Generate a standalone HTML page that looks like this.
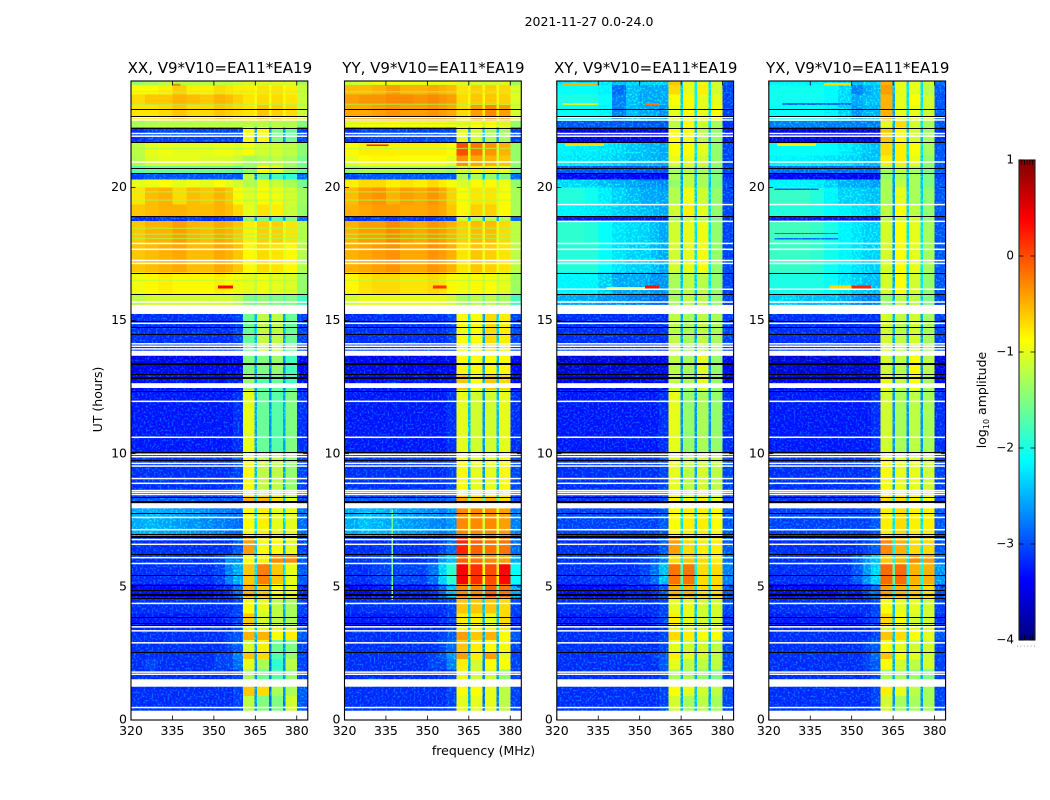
<!DOCTYPE html>
<html>
<head>
<meta charset="utf-8">
<title>2021-11-27 0.0-24.0</title>
<style>
html,body{margin:0;padding:0;background:#fff;width:1050px;height:800px;overflow:hidden}
svg{display:block}
text{font-family:"DejaVu Sans","Liberation Sans",sans-serif;fill:#000}
</style>
</head>
<body>
<svg id="figure" width="1050" height="800" viewBox="0 0 1050 800" xmlns="http://www.w3.org/2000/svg">
  <defs id="defs"></defs>
  <text x="589" y="26" font-size="12.5" text-anchor="middle">2021-11-27 0.0-24.0</text>
  <text transform="translate(102,399.5) rotate(-90)" font-size="12.5" text-anchor="middle">UT (hours)</text>
  <text x="483.5" y="755" font-size="12.5" text-anchor="middle">frequency (MHz)</text>
  <text transform="translate(986,400) rotate(-90)" font-size="12.5" text-anchor="middle">log<tspan font-size="8" dy="3">10</tspan><tspan dy="-3"> amplitude</tspan></text>
  <g id="panels"></g>
  <g id="colorbar"></g>
</svg>
<script>
// Frequency bin edges (MHz) and time row edges (UT hours)
const freqEdges = [320,325,330,335,340,345,350,354,357,360.5,364.7,365.7,369.9,370.8,375,375.9,380,384];
const timeEdges = [0,0.9,1.25,1.9,2.3,2.55,3.0,3.3,3.5,4.0,4.6,5.1,5.9,6.2,6.9,7.95,8.4,10.05,12.4,13.0,13.7,15.59,16.0,16.8,17.9,18.74,18.93,19.36,20.0,20.3,20.53,20.8,21.2,21.7,22.25,22.5,23.1,23.5,23.85,24];

// log10 amplitude per time row (bottom to top) and frequency bin
const xxValues = [
[-3.2,-3.2,-3.2,-3.2,-3.2,-3.2,-3.2,-3.2,-3.1,-1.2,-2.7,-1.5,-2.9,-1.5,-2.8,-1.1,-3.0],
[-3.2,-3.2,-3.2,-3.2,-3.2,-3.2,-3.2,-3.2,-3.1,-0.6,-2.7,-0.7,-2.9,-1.3,-2.7,-1.3,-3.0],
[-3.2,-3.2,-3.2,-3.2,-3.2,-3.2,-3.2,-3.2,-3.1,-1.3,-2.7,-1.6,-2.8,-1.7,-2.7,-1.4,-3.1],
[-3.2,-3.1,-3.2,-3.2,-3.2,-3.2,-3.1,-3.1,-2.9,-1.0,-2.7,-1.3,-2.9,-1.9,-2.7,-1.2,-3.1],
[-3.2,-3.2,-3.2,-3.2,-3.2,-3.2,-3.1,-3.1,-2.8,-0.6,-2.6,-0.7,-2.8,-1.7,-2.7,-1.4,-3.1],
[-3.2,-3.2,-3.2,-3.2,-3.2,-3.2,-3.2,-3.1,-3.0,-1.1,-2.6,-0.8,-2.8,-1.6,-2.7,-1.5,-3.1],
[-3.2,-3.2,-3.2,-3.2,-3.2,-3.2,-3.2,-3.1,-3.0,-0.5,-2.5,-0.5,-2.7,-0.9,-2.6,-0.8,-3.0],
[-3.2,-3.2,-3.2,-3.2,-3.2,-3.2,-3.2,-3.2,-3.0,-1.0,-2.5,-1.0,-2.7,-1.0,-2.6,-1.1,-3.1],
[-3.3,-3.3,-3.3,-3.3,-3.3,-3.3,-3.3,-3.2,-3.1,-0.6,-2.5,-1.1,-2.8,-1.2,-2.6,-1.3,-3.2],
[-3.2,-3.2,-3.2,-3.2,-3.2,-3.2,-3.2,-3.2,-3.1,-0.9,-2.6,-1.0,-2.8,-1.2,-2.6,-1.3,-3.1],
[-3.4,-3.4,-3.4,-3.4,-3.4,-3.4,-3.3,-3.2,-2.9,-0.5,-2.4,-0.6,-2.6,-0.9,-2.5,-1.0,-3.2],
[-3.2,-3.2,-3.2,-3.2,-3.2,-3.2,-3.1,-2.8,-2.6,-0.6,-2.3,-0.25,-2.5,-0.6,-2.4,-1.0,-3.0],
[-3.2,-3.2,-3.2,-3.2,-3.2,-3.2,-3.1,-2.8,-2.8,-0.9,-2.5,-0.8,-2.5,-0.3,-2.5,-0.3,-3.0],
[-3.2,-3.2,-3.2,-3.2,-3.2,-3.2,-3.2,-3.2,-3.0,-0.4,-2.4,-0.9,-2.6,-0.9,-2.6,-1.0,-3.1],
[-2.6,-2.55,-2.6,-2.65,-2.7,-2.75,-2.8,-2.85,-2.9,-0.9,-2.3,-0.8,-2.5,-1.0,-2.4,-1.0,-2.9],
[-3.0,-3.0,-3.0,-3.0,-3.0,-3.0,-3.0,-3.0,-3.0,-0.5,-2.4,-0.5,-2.6,-0.7,-2.4,-1.0,-3.1],
[-3.2,-3.2,-3.2,-3.2,-3.2,-3.2,-3.2,-3.2,-3.1,-0.9,-2.5,-1.2,-2.7,-1.2,-2.6,-1.4,-3.1],
[-3.3,-3.3,-3.3,-3.3,-3.3,-3.3,-3.3,-3.3,-3.2,-1.0,-2.6,-1.6,-2.7,-1.7,-2.6,-1.5,-3.2],
[-3.4,-3.3,-3.4,-3.3,-3.4,-3.3,-3.4,-3.3,-3.3,-1.4,-2.6,-1.7,-2.8,-1.6,-2.7,-1.8,-3.4],
[-3.5,-3.4,-3.5,-3.4,-3.5,-3.4,-3.5,-3.4,-3.4,-1.5,-2.6,-1.5,-2.8,-1.4,-2.7,-1.8,-3.4],
[-3.2,-3.2,-3.2,-3.2,-3.2,-3.2,-3.2,-3.2,-3.1,-1.6,-2.5,-1.2,-2.7,-1.2,-2.6,-1.6,-3.1],
[-1.2,-1.1,-1.1,-1.1,-1.1,-1.1,-1.1,-1.1,-1.2,-1.5,-1.7,-1.4,-1.7,-1.5,-1.7,-1.5,-1.8],
[-0.95,-0.85,-0.8,-0.85,-0.85,-0.85,-0.8,-0.85,-0.95,-1.0,-1.2,-0.95,-1.2,-1.0,-1.2,-1.05,-1.4],
[-0.6,-0.55,-0.5,-0.45,-0.55,-0.55,-0.45,-0.5,-0.6,-0.85,-1.0,-0.7,-1.0,-0.75,-1.0,-0.85,-1.25],
[-0.6,-0.5,-0.5,-0.4,-0.5,-0.55,-0.45,-0.5,-0.6,-0.8,-0.95,-0.65,-0.95,-0.65,-0.95,-0.75,-1.25],
[-3.2,-3.2,-3.1,-3.2,-3.1,-3.2,-3.2,-3.1,-3.1,-1.4,-2.6,-1.5,-2.6,-1.7,-2.6,-1.5,-2.9],
[-0.6,-0.55,-0.5,-0.5,-0.55,-0.55,-0.5,-0.55,-0.7,-1.0,-1.2,-0.75,-1.2,-0.8,-1.2,-1.15,-1.4],
[-0.75,-0.55,-0.5,-0.7,-0.55,-0.6,-0.5,-0.6,-0.85,-1.05,-1.2,-0.85,-1.2,-0.95,-1.2,-1.1,-1.35],
[-1.0,-0.95,-0.9,-1.0,-0.95,-1.0,-0.9,-1.0,-1.1,-1.25,-1.35,-1.0,-1.35,-1.15,-1.35,-1.3,-1.55],
[-3.1,-3.0,-3.0,-3.0,-3.0,-3.0,-3.0,-3.0,-3.0,-1.2,-2.8,-1.6,-2.7,-1.8,-2.4,-1.9,-2.9],
[-1.7,-1.6,-1.6,-1.6,-1.6,-1.6,-1.6,-1.6,-1.7,-1.4,-1.5,-0.9,-1.3,-1.0,-1.4,-1.4,-1.6],
[-1.25,-1.05,-1.0,-1.0,-1.0,-1.05,-1.05,-1.05,-1.15,-1.3,-1.35,-1.25,-1.35,-1.2,-1.35,-1.3,-1.55],
[-1.2,-1.0,-0.95,-1.0,-1.0,-1.0,-0.95,-0.95,-1.0,-0.9,-1.15,-1.1,-1.25,-1.1,-1.25,-1.2,-1.45],
[-3.2,-3.1,-3.1,-3.1,-3.1,-3.1,-3.1,-3.1,-3.1,-0.9,-2.7,-0.9,-2.6,-1.5,-2.7,-1.6,-3.1],
[-1.3,-1.25,-1.2,-1.2,-1.2,-1.2,-1.2,-1.2,-1.2,-1.2,-1.3,-1.2,-1.4,-1.2,-1.3,-1.25,-1.5],
[-0.75,-0.75,-0.7,-0.6,-0.7,-0.7,-0.6,-0.65,-0.7,-0.75,-0.85,-0.6,-0.85,-0.65,-0.85,-0.7,-1.15],
[-0.7,-0.6,-0.6,-0.5,-0.55,-0.6,-0.5,-0.55,-0.65,-0.75,-0.9,-0.7,-0.9,-0.7,-0.9,-0.75,-1.15],
[-0.85,-0.85,-0.8,-0.65,-0.8,-0.8,-0.7,-0.75,-0.8,-0.8,-0.9,-0.75,-0.9,-0.75,-0.9,-0.8,-1.15],
[-1.4,-1.3,-1.2,-1.2,-1.2,-1.2,-1.2,-1.2,-1.1,-1.0,-1.1,-1.0,-1.1,-1.0,-1.1,-1.0,-1.3]
];
const yyValues = [
[-3.2,-3.2,-3.2,-3.2,-3.2,-3.2,-3.2,-3.2,-3.1,-1.0,-2.6,-1.0,-2.9,-1.0,-2.8,-1.2,-3.1],
[-3.2,-3.2,-3.2,-3.2,-3.2,-3.2,-3.2,-3.2,-3.1,-0.9,-2.6,-0.9,-2.9,-1.0,-2.8,-1.2,-3.1],
[-3.2,-3.2,-3.2,-3.2,-3.2,-3.2,-3.2,-3.2,-3.1,-1.0,-2.6,-1.1,-2.8,-1.1,-2.7,-1.4,-3.1],
[-3.2,-3.2,-3.2,-3.2,-3.2,-3.2,-3.1,-3.1,-2.8,-0.8,-2.6,-1.1,-2.8,-0.9,-2.7,-0.9,-3.1],
[-3.2,-3.2,-3.2,-3.2,-3.2,-3.2,-3.1,-3.0,-2.7,-0.4,-2.5,-0.8,-2.7,-0.4,-2.6,-1.0,-3.1],
[-3.2,-3.2,-3.2,-3.2,-3.2,-3.2,-3.2,-3.1,-2.9,-0.6,-2.5,-0.8,-2.7,-0.9,-2.6,-0.9,-3.1],
[-3.2,-3.2,-3.2,-3.2,-3.2,-3.2,-3.2,-3.1,-3.0,-0.4,-2.4,-0.6,-2.6,-0.5,-2.5,-0.9,-3.0],
[-3.2,-3.2,-3.2,-3.2,-3.2,-3.2,-3.2,-3.2,-3.0,-0.9,-2.4,-0.9,-2.6,-0.9,-2.5,-0.8,-3.1],
[-3.3,-3.3,-3.3,-3.3,-3.3,-3.3,-3.3,-3.2,-3.1,-0.8,-2.4,-0.8,-2.6,-1.0,-2.5,-0.7,-3.2],
[-3.2,-3.2,-3.2,-3.2,-3.2,-3.2,-3.2,-3.2,-3.1,-0.6,-2.4,-0.6,-2.5,-0.6,-2.4,-0.7,-3.1],
[-3.4,-3.4,-3.3,-3.3,-3.3,-3.3,-3.2,-2.9,-2.5,-0.3,-1.6,-0.3,-1.7,-0.1,-1.6,-0.2,-2.6],
[-3.2,-3.2,-3.1,-3.1,-3.1,-3.1,-2.9,-2.4,-1.9,0.4,-0.6,0.15,-0.9,0.0,-0.8,0.35,-2.1],
[-3.2,-3.2,-3.1,-3.1,-3.2,-3.2,-3.1,-2.7,-2.5,-0.1,-1.0,-0.2,-1.2,-0.3,-1.1,-0.4,-2.6],
[-3.2,-3.2,-3.2,-3.2,-3.2,-3.2,-3.2,-3.1,-2.9,0.2,-0.9,-0.1,-1.2,-0.2,-1.1,-0.2,-2.9],
[-2.6,-2.5,-2.55,-2.6,-2.65,-2.7,-2.75,-2.8,-2.7,-0.3,-1.0,-0.3,-1.1,-0.3,-1.0,-0.4,-2.8],
[-3.0,-3.0,-3.0,-3.0,-3.0,-3.0,-3.0,-3.0,-2.9,-0.4,-1.6,-0.6,-1.8,-0.5,-1.7,-0.7,-3.1],
[-3.2,-3.2,-3.2,-3.2,-3.2,-3.2,-3.2,-3.2,-3.1,-0.9,-2.5,-1.0,-2.7,-1.0,-2.5,-0.9,-3.1],
[-3.3,-3.3,-3.3,-3.3,-3.3,-3.3,-3.3,-3.3,-3.2,-1.0,-2.5,-1.1,-2.7,-1.1,-2.5,-1.0,-3.2],
[-3.4,-3.3,-3.4,-3.3,-3.4,-3.3,-3.4,-3.3,-3.3,-0.6,-2.4,-0.9,-2.6,-0.6,-2.5,-0.7,-3.4],
[-3.5,-3.4,-3.5,-3.4,-3.5,-3.4,-3.5,-3.4,-3.4,-0.9,-2.4,-0.9,-2.6,-0.9,-2.5,-0.9,-3.4],
[-3.2,-3.2,-3.2,-3.2,-3.2,-3.2,-3.2,-3.2,-3.1,-0.9,-2.3,-0.9,-2.6,-0.7,-2.4,-0.8,-3.1],
[-1.1,-1.0,-1.0,-1.0,-1.0,-1.0,-1.0,-1.0,-1.1,-1.3,-1.6,-1.2,-1.6,-1.2,-1.6,-1.3,-1.8],
[-0.85,-0.75,-0.7,-0.7,-0.75,-0.75,-0.7,-0.75,-0.85,-0.95,-1.15,-0.85,-1.15,-0.9,-1.15,-1.0,-1.35],
[-0.5,-0.45,-0.4,-0.35,-0.45,-0.45,-0.35,-0.4,-0.5,-0.75,-0.95,-0.6,-0.95,-0.65,-0.95,-0.75,-1.2],
[-0.5,-0.4,-0.4,-0.3,-0.4,-0.45,-0.35,-0.4,-0.5,-0.65,-0.85,-0.55,-0.85,-0.55,-0.85,-0.7,-1.2],
[-3.2,-3.2,-3.1,-3.2,-3.1,-3.2,-3.2,-3.1,-3.1,-1.1,-2.5,-1.2,-2.5,-1.2,-2.5,-1.2,-2.9],
[-0.5,-0.45,-0.4,-0.4,-0.45,-0.45,-0.4,-0.45,-0.6,-0.85,-1.05,-0.65,-1.05,-0.65,-1.05,-0.85,-1.3],
[-0.55,-0.4,-0.35,-0.5,-0.4,-0.45,-0.35,-0.45,-0.65,-0.85,-1.05,-0.75,-1.05,-0.75,-1.05,-0.85,-1.3],
[-0.8,-0.7,-0.7,-0.8,-0.75,-0.8,-0.7,-0.8,-0.9,-1.05,-1.2,-0.85,-1.2,-0.85,-1.2,-0.95,-1.4],
[-3.1,-3.0,-3.0,-3.0,-3.0,-3.0,-3.0,-3.0,-3.0,-1.3,-2.6,-1.3,-2.5,-1.4,-2.4,-1.5,-2.9],
[-1.4,-1.3,-1.3,-1.3,-1.3,-1.3,-1.3,-1.3,-1.4,-1.1,-1.3,-0.8,-1.2,-0.8,-1.2,-1.0,-1.5],
[-1.0,-0.9,-0.85,-0.85,-0.9,-0.9,-0.9,-0.9,-1.0,-0.35,-1.0,-0.45,-1.1,-0.5,-1.1,-0.6,-1.4],
[-0.85,-0.8,-0.8,-0.8,-0.8,-0.8,-0.8,-0.8,-0.85,0.0,-0.9,-0.2,-1.0,-0.35,-1.0,-0.5,-1.4],
[-3.2,-3.1,-3.1,-3.1,-3.1,-3.1,-3.1,-3.1,-3.1,-1.0,-2.6,-1.1,-2.5,-1.3,-2.6,-1.3,-3.1],
[-1.0,-0.95,-0.95,-0.9,-0.95,-0.95,-0.95,-0.95,-1.0,-1.0,-1.1,-0.9,-1.1,-0.9,-1.1,-1.0,-1.4],
[-0.45,-0.45,-0.4,-0.35,-0.4,-0.4,-0.35,-0.4,-0.45,-0.7,-0.8,-0.4,-0.8,-0.3,-0.8,-0.4,-1.1],
[-0.4,-0.35,-0.35,-0.3,-0.3,-0.35,-0.3,-0.35,-0.4,-0.7,-0.85,-0.6,-0.85,-0.6,-0.85,-0.65,-1.05],
[-0.55,-0.55,-0.5,-0.4,-0.5,-0.5,-0.45,-0.5,-0.55,-0.75,-0.85,-0.65,-0.85,-0.65,-0.85,-0.7,-1.05],
[-1.1,-1.0,-0.9,-0.9,-0.9,-0.9,-0.9,-0.9,-0.9,-1.0,-1.1,-1.0,-1.1,-1.0,-1.1,-1.0,-1.3]
];
const xyValues = [
[-3.2,-3.2,-3.2,-3.2,-3.2,-3.2,-3.2,-3.2,-3.1,-1.1,-2.6,-1.3,-2.5,-1.2,-2.6,-1.3,-3.1],
[-3.2,-3.2,-3.2,-3.2,-3.2,-3.2,-3.2,-3.2,-3.1,-0.9,-2.6,-1.0,-2.5,-1.1,-2.6,-1.2,-3.1],
[-3.2,-3.2,-3.2,-3.2,-3.2,-3.2,-3.2,-3.2,-3.1,-1.3,-2.6,-1.3,-2.6,-1.4,-2.6,-1.5,-3.1],
[-3.2,-3.2,-3.2,-3.2,-3.2,-3.2,-3.2,-3.2,-3.0,-1.0,-2.6,-1.2,-2.6,-1.2,-2.6,-1.2,-3.1],
[-3.2,-3.2,-3.2,-3.2,-3.2,-3.2,-3.2,-3.1,-3.0,-0.8,-2.5,-1.0,-2.6,-1.1,-2.6,-1.2,-3.1],
[-3.2,-3.2,-3.2,-3.2,-3.2,-3.2,-3.2,-3.2,-3.1,-1.0,-2.5,-1.1,-2.6,-1.1,-2.5,-1.2,-3.1],
[-3.2,-3.2,-3.2,-3.2,-3.2,-3.2,-3.2,-3.2,-3.1,-0.7,-2.5,-0.8,-2.5,-0.9,-2.5,-0.9,-3.0],
[-3.2,-3.2,-3.2,-3.2,-3.2,-3.2,-3.2,-3.2,-3.1,-1.0,-2.4,-1.0,-2.5,-1.0,-2.5,-1.0,-3.1],
[-3.3,-3.3,-3.3,-3.3,-3.3,-3.3,-3.3,-3.2,-3.1,-0.8,-2.4,-1.0,-2.5,-1.1,-2.5,-1.1,-3.2],
[-3.2,-3.2,-3.2,-3.2,-3.2,-3.2,-3.2,-3.2,-3.1,-1.0,-2.5,-1.0,-2.5,-1.1,-2.5,-1.1,-3.1],
[-3.4,-3.4,-3.4,-3.4,-3.4,-3.3,-3.3,-3.2,-3.0,-0.5,-2.2,-0.5,-2.3,-0.7,-2.3,-0.7,-3.0],
[-3.2,-3.2,-3.2,-3.2,-3.2,-3.2,-3.1,-2.9,-2.5,-0.2,-1.8,-0.2,-2.2,-0.7,-2.2,-0.7,-2.8],
[-3.2,-3.2,-3.2,-3.2,-3.2,-3.2,-3.1,-3.0,-2.8,-0.7,-2.3,-0.6,-2.3,-0.7,-2.3,-0.8,-2.9],
[-3.2,-3.2,-3.2,-3.2,-3.2,-3.2,-3.2,-3.2,-3.0,-0.4,-2.2,-0.7,-2.3,-0.8,-2.3,-0.8,-3.0],
[-3.1,-3.1,-3.1,-3.1,-3.1,-3.1,-3.1,-3.1,-3.0,-0.9,-2.3,-0.8,-2.4,-0.8,-2.3,-0.9,-3.0],
[-3.2,-3.2,-3.2,-3.2,-3.2,-3.2,-3.2,-3.2,-3.1,-0.8,-2.3,-0.9,-2.4,-0.8,-2.4,-1.0,-3.1],
[-3.2,-3.2,-3.2,-3.2,-3.2,-3.2,-3.2,-3.2,-3.1,-1.0,-2.6,-1.2,-2.6,-1.1,-2.6,-1.2,-3.1],
[-3.3,-3.3,-3.3,-3.3,-3.3,-3.3,-3.3,-3.3,-3.2,-1.0,-2.7,-1.4,-2.7,-1.3,-2.7,-1.4,-3.2],
[-3.5,-3.4,-3.5,-3.4,-3.5,-3.4,-3.5,-3.4,-3.4,-1.2,-2.7,-1.3,-2.7,-1.0,-2.7,-1.4,-3.4],
[-3.6,-3.5,-3.6,-3.5,-3.6,-3.5,-3.6,-3.5,-3.5,-1.2,-2.7,-1.3,-2.7,-1.0,-2.7,-1.4,-3.5],
[-3.2,-3.2,-3.2,-3.2,-3.2,-3.2,-3.2,-3.2,-3.2,-1.2,-2.6,-1.3,-2.6,-1.2,-2.6,-1.3,-3.1],
[-2.6,-2.6,-2.6,-2.7,-2.7,-2.8,-2.8,-2.9,-2.9,-1.3,-2.5,-1.2,-2.5,-1.2,-2.4,-1.4,-3.1],
[-2.2,-2.2,-2.2,-2.4,-2.6,-2.6,-2.6,-2.7,-2.7,-1.3,-2.5,-1.2,-2.4,-1.2,-2.3,-1.4,-3.1],
[-1.95,-1.95,-1.95,-2.1,-2.3,-2.4,-2.4,-2.5,-2.6,-1.1,-2.6,-1.0,-2.3,-0.9,-2.3,-1.4,-3.1],
[-1.9,-1.9,-1.95,-2.1,-2.3,-2.35,-2.4,-2.5,-2.6,-1.1,-2.6,-1.0,-2.3,-0.95,-2.3,-1.4,-3.1],
[-3.3,-3.3,-3.3,-3.3,-3.3,-3.3,-3.3,-3.3,-3.3,-1.3,-2.6,-1.1,-2.4,-1.2,-2.4,-1.5,-3.2],
[-2.2,-2.2,-2.25,-2.3,-2.4,-2.45,-2.5,-2.55,-2.6,-1.1,-2.6,-0.8,-2.4,-1.0,-2.4,-1.4,-3.1],
[-1.95,-1.95,-2.05,-2.25,-2.4,-2.5,-2.6,-2.6,-2.65,-1.25,-2.6,-0.95,-2.4,-1.1,-2.4,-1.4,-3.1],
[-2.35,-2.35,-2.4,-2.5,-2.55,-2.6,-2.7,-2.7,-2.75,-1.4,-2.6,-1.2,-2.5,-1.3,-2.5,-1.5,-3.1],
[-3.4,-3.4,-3.4,-3.4,-3.4,-3.4,-3.4,-3.4,-3.4,-1.3,-2.7,-1.2,-2.5,-1.3,-2.4,-1.5,-3.2],
[-3.0,-3.0,-3.0,-3.0,-3.0,-3.0,-3.0,-3.0,-3.0,-1.3,-2.6,-1.2,-2.5,-1.3,-2.5,-1.5,-3.1],
[-2.25,-2.3,-2.3,-2.35,-2.4,-2.5,-2.5,-2.55,-2.6,-1.0,-2.6,-1.0,-2.4,-1.1,-2.4,-1.4,-3.1],
[-2.2,-2.25,-2.25,-2.3,-2.35,-2.45,-2.5,-2.55,-2.6,-0.9,-2.6,-0.9,-2.3,-1.0,-2.3,-1.4,-3.1],
[-3.5,-3.5,-3.5,-3.5,-3.5,-3.5,-3.5,-3.5,-3.5,-0.9,-2.7,-0.9,-2.5,-1.2,-2.5,-1.4,-3.3],
[-3.0,-3.0,-3.0,-3.0,-3.0,-3.0,-3.0,-3.0,-3.0,-1.2,-2.5,-0.9,-2.3,-1.1,-2.3,-1.3,-3.2],
[-2.1,-2.1,-2.1,-2.2,-2.8,-2.5,-2.6,-2.6,-2.7,-1.0,-2.4,-0.9,-2.3,-1.0,-2.3,-0.9,-3.1],
[-2.0,-2.0,-2.0,-2.1,-2.8,-2.5,-2.6,-2.6,-2.6,-0.9,-2.4,-0.9,-2.2,-1.0,-2.3,-1.0,-3.1],
[-2.1,-2.1,-2.1,-2.2,-2.9,-2.5,-2.6,-2.6,-2.6,-0.7,-2.4,-1.0,-2.2,-0.8,-2.3,-1.1,-3.1],
[-2.3,-2.3,-2.3,-2.3,-2.5,-2.4,-2.4,-2.4,-2.4,-0.6,-2.4,-1.0,-2.2,-1.0,-2.3,-1.1,-3.0]
];
const yxValues = [
[-3.2,-3.2,-3.2,-3.2,-3.2,-3.2,-3.2,-3.2,-3.1,-1.1,-2.7,-1.3,-2.6,-1.3,-2.7,-1.3,-3.1],
[-3.2,-3.2,-3.2,-3.2,-3.2,-3.2,-3.2,-3.2,-3.1,-0.8,-2.7,-1.0,-2.6,-1.2,-2.7,-1.3,-3.1],
[-3.2,-3.2,-3.2,-3.2,-3.2,-3.2,-3.2,-3.2,-3.1,-1.3,-2.6,-1.3,-2.6,-1.4,-2.6,-1.5,-3.1],
[-3.2,-3.2,-3.2,-3.2,-3.2,-3.2,-3.2,-3.1,-3.0,-0.9,-2.6,-1.1,-2.6,-1.2,-2.6,-1.1,-3.1],
[-3.2,-3.2,-3.2,-3.2,-3.2,-3.2,-3.2,-3.1,-2.9,-0.6,-2.5,-0.9,-2.6,-1.0,-2.6,-1.1,-3.1],
[-3.2,-3.2,-3.2,-3.2,-3.2,-3.2,-3.2,-3.1,-3.0,-0.9,-2.5,-1.0,-2.6,-1.1,-2.6,-1.1,-3.1],
[-3.2,-3.2,-3.2,-3.2,-3.2,-3.2,-3.2,-3.2,-3.1,-0.6,-2.5,-0.7,-2.5,-0.9,-2.5,-1.0,-3.0],
[-3.2,-3.2,-3.2,-3.2,-3.2,-3.2,-3.2,-3.2,-3.1,-1.0,-2.5,-1.0,-2.5,-1.0,-2.5,-1.0,-3.1],
[-3.3,-3.3,-3.3,-3.3,-3.3,-3.3,-3.3,-3.2,-3.1,-0.7,-2.5,-0.9,-2.6,-1.1,-2.5,-1.1,-3.2],
[-3.2,-3.2,-3.2,-3.2,-3.2,-3.2,-3.2,-3.2,-3.1,-0.9,-2.5,-1.0,-2.5,-1.0,-2.5,-1.1,-3.1],
[-3.4,-3.4,-3.4,-3.4,-3.4,-3.3,-3.3,-3.1,-2.9,-0.4,-2.2,-0.5,-2.3,-0.6,-2.3,-0.7,-3.0],
[-3.2,-3.2,-3.2,-3.2,-3.2,-3.2,-3.0,-2.7,-2.4,-0.15,-1.7,-0.15,-2.1,-0.5,-2.1,-0.5,-2.7],
[-3.2,-3.2,-3.2,-3.2,-3.2,-3.2,-3.0,-2.7,-2.5,-0.6,-2.2,-0.5,-2.3,-0.3,-2.3,-0.4,-2.9],
[-3.2,-3.2,-3.2,-3.2,-3.2,-3.2,-3.2,-3.1,-3.0,-0.3,-2.1,-0.5,-2.3,-0.7,-2.3,-0.7,-3.0],
[-3.1,-3.1,-3.1,-3.1,-3.1,-3.1,-3.1,-3.1,-3.0,-0.8,-2.3,-0.7,-2.4,-0.8,-2.3,-0.8,-3.0],
[-3.2,-3.2,-3.2,-3.2,-3.2,-3.2,-3.2,-3.2,-3.1,-0.7,-2.3,-0.7,-2.4,-0.8,-2.3,-0.9,-3.1],
[-3.2,-3.2,-3.2,-3.2,-3.2,-3.2,-3.2,-3.2,-3.1,-0.9,-2.6,-1.0,-2.6,-1.0,-2.6,-1.1,-3.1],
[-3.3,-3.3,-3.3,-3.3,-3.3,-3.3,-3.3,-3.3,-3.2,-1.1,-2.7,-1.3,-2.7,-1.2,-2.7,-1.3,-3.2],
[-3.5,-3.4,-3.5,-3.4,-3.5,-3.4,-3.5,-3.4,-3.4,-1.0,-2.7,-1.2,-2.7,-0.9,-2.7,-1.3,-3.4],
[-3.6,-3.5,-3.6,-3.5,-3.6,-3.5,-3.6,-3.5,-3.5,-1.1,-2.7,-1.2,-2.7,-0.9,-2.7,-1.2,-3.5],
[-3.2,-3.2,-3.2,-3.2,-3.2,-3.2,-3.2,-3.2,-3.2,-1.1,-2.6,-1.2,-2.6,-1.1,-2.6,-1.3,-3.1],
[-2.4,-2.4,-2.5,-2.5,-2.5,-2.6,-2.7,-2.8,-2.8,-1.4,-2.6,-1.2,-2.5,-1.2,-2.4,-1.5,-3.1],
[-2.0,-2.0,-2.0,-2.0,-2.1,-2.3,-2.4,-2.5,-2.5,-1.1,-2.6,-0.9,-2.4,-1.1,-2.3,-1.4,-3.0],
[-1.85,-1.85,-1.85,-1.9,-2.05,-2.2,-2.3,-2.4,-2.4,-1.1,-2.7,-0.9,-2.3,-1.0,-2.3,-1.3,-3.0],
[-1.8,-1.8,-1.8,-1.85,-2.0,-2.2,-2.3,-2.4,-2.4,-1.1,-2.7,-0.9,-2.3,-1.0,-2.3,-1.3,-3.0],
[-3.3,-3.3,-3.3,-3.3,-3.3,-3.3,-3.3,-3.3,-3.3,-1.2,-2.7,-1.1,-2.5,-1.1,-2.5,-1.4,-3.1],
[-1.95,-1.95,-1.95,-2.0,-2.1,-2.2,-2.3,-2.35,-2.4,-1.2,-2.7,-0.9,-2.4,-1.2,-2.4,-1.4,-3.0],
[-1.85,-1.85,-1.85,-1.95,-2.2,-2.4,-2.4,-2.45,-2.5,-1.3,-2.7,-1.0,-2.4,-1.3,-2.4,-1.4,-3.0],
[-2.2,-2.2,-2.2,-2.25,-2.4,-2.55,-2.6,-2.6,-2.65,-1.3,-2.7,-1.2,-2.5,-1.3,-2.5,-1.5,-3.0],
[-3.4,-3.4,-3.4,-3.4,-3.4,-3.4,-3.4,-3.4,-3.4,-1.4,-2.7,-1.3,-2.5,-1.3,-2.5,-1.5,-3.1],
[-2.9,-2.9,-2.9,-2.9,-2.9,-2.9,-2.9,-2.9,-2.9,-1.3,-2.6,-1.2,-2.5,-1.3,-2.5,-1.5,-3.0],
[-2.2,-2.2,-2.2,-2.25,-2.3,-2.35,-2.4,-2.5,-2.5,-0.8,-2.6,-0.8,-2.4,-1.0,-2.4,-1.4,-3.0],
[-2.1,-2.1,-2.1,-2.1,-2.15,-2.25,-2.35,-2.45,-2.5,-0.7,-2.6,-0.8,-2.3,-0.9,-2.3,-1.3,-3.0],
[-3.5,-3.5,-3.5,-3.5,-3.5,-3.5,-3.5,-3.5,-3.5,-0.6,-2.7,-0.9,-2.5,-1.1,-2.5,-1.3,-3.2],
[-2.8,-2.8,-2.8,-2.8,-2.8,-2.8,-2.8,-2.8,-2.8,-1.0,-2.6,-0.7,-2.3,-1.1,-2.3,-1.3,-3.0],
[-2.1,-2.1,-2.1,-2.1,-2.2,-2.4,-2.7,-2.55,-2.55,-0.5,-2.6,-1.0,-2.3,-1.0,-2.3,-1.1,-3.0],
[-2.05,-2.05,-2.05,-2.05,-2.15,-2.35,-2.6,-2.5,-2.5,-0.5,-2.6,-1.0,-2.3,-0.9,-2.3,-1.1,-3.0],
[-2.05,-2.05,-2.05,-2.05,-2.15,-2.35,-2.8,-2.6,-2.5,-0.4,-2.5,-1.0,-2.3,-1.0,-2.3,-1.2,-3.0],
[-2.2,-2.2,-2.2,-2.2,-2.3,-2.3,-2.5,-2.4,-2.4,-0.5,-2.5,-1.0,-2.3,-1.0,-2.3,-1.1,-2.9]
];

// Narrow RFI patches per panel: start hour, end hour, start MHz, end MHz, log10 amplitude
const xxPatches = [[16.2,16.32,351.5,357,0.35],[23.84,23.9,335,338,0.0]];
const yyPatches = [[16.2,16.32,352,357,0.1],[21.55,21.62,328,336,0.2],[4.5,7.9,337,337.6,-1.6]];
const xyPatches = [[16.2,16.32,352,357,0.3],[21.55,21.65,323,337,-0.7],[23.84,23.92,322,335,-0.5],[23.1,23.17,352,357,-0.2],[23.1,23.17,322,335,-1.1],[16.2,16.27,338,352,-1.0]];
const yxPatches = [[16.2,16.32,350,357,0.2],[16.2,16.32,342,350,-0.7],[21.55,21.65,323,337,-0.8],[23.84,23.92,340,350,-0.7],[23.1,23.17,325,350,-2.9],[18.25,18.3,322,345,-2.9],[18.05,18.1,322,345,-2.9],[19.9,19.96,322,338,-3.0]];

// Flagged data: white gaps [start hour, end hour], single-row flags, and black rows
const whiteBands = [[0,0.35],[1.25,1.53],[7.95,8.14],[12.47,12.65],[13.68,13.87],[15.25,15.59]];
const whiteLines = [0.47,1.72,1.8,2.9,3.35,3.5,4.38,5.88,6.1,6.6,6.78,7.15,7.61,8.47,8.55,8.62,8.89,9.07,9.54,9.64,9.89,9.98,10.62,11.97,13.94,14.04,14.13,14.9,15.7,17.15,17.26,17.68,17.9,20.96,21.93,22.03,22.54,22.63];
const blackLines = [2.56,3.57,3.65,3.88,4.6,4.68,4.75,4.9,5.08,5.43,6.22,6.86,6.92,6.98,7.79,8.2,8.24,8.39,9.76,10.05,12.34,12.83,12.87,13.0,13.38,13.42,14.49,14.75,15.0,16.0,16.78,18.93,20.53,20.75,21.7,22.25,22.7,22.96];
const extraWhiteCross = [16.18,18.73,19.36];
// Faint streak rows seen in the bright XX/YY sections
const streakLines = [16.52,18.09,18.25,18.47,19.53,19.84,21.47,22.4,23.13,23.6,23.89];

// Axis ticks and labels
const freqTicks = [320,335,350,365,380];
const hourTicks = [0,5,10,15,20];
const colorTicks = [1,0,-1,-2,-3,-4];
const panelNames = ['XX','YY','XY','YX'];
const panelValues = [xxValues,yyValues,xyValues,yxValues];
const panelPatches = [xxPatches,yyPatches,xyPatches,yxPatches];
const panelLefts = [131,344.5,556.8,768.8];

const SVGNS = 'http://www.w3.org/2000/svg';
const PANEL_W = 176.8, TOP = 81, BOTTOM = 720;
const FMIN = 320, FMAX = 384, TMIN = 0, TMAX = 24, VMIN = -4, VMAX = 1;
const CB_X = 1019, CB_W = 16, CB_TOP = 160, CB_BOTTOM = 640;

function make(tag, attrs, parent) {
  const el = document.createElementNS(SVGNS, tag);
  for (const k in attrs) el.setAttribute(k, attrs[k]);
  parent.appendChild(el);
  return el;
}
function yScale(h) { return BOTTOM + (h - TMIN) / (TMAX - TMIN) * (TOP - BOTTOM); }
function xScale(left, f) { return left + (f - FMIN) / (FMAX - FMIN) * PANEL_W; }
function cbScale(v) { return CB_BOTTOM + (v - VMIN) / (VMAX - VMIN) * (CB_TOP - CB_BOTTOM); }
function jet(v) {
  const t = Math.max(0, Math.min(1, (v - VMIN) / (VMAX - VMIN)));
  const ch = (c) => Math.round(255 * Math.max(0, Math.min(1, 1.5 - Math.abs(4 * t - c))));
  return 'rgb(' + ch(3) + ',' + ch(2) + ',' + ch(1) + ')';
}

// Purely cosmetic pixel grain: faint cyan flecks where the underlying cell colour has blue in it
const defs = document.getElementById('defs');
function addGrain(id, seed, left) {
  const f = make('filter', {id: id, filterUnits: 'userSpaceOnUse', x: left, y: TOP, width: PANEL_W, height: BOTTOM - TOP, 'color-interpolation-filters': 'sRGB'}, defs);
  make('feTurbulence', {type: 'fractalNoise', baseFrequency: 0.5, numOctaves: 1, seed: seed, result: 'raw'}, f);
  make('feColorMatrix', {in: 'raw', type: 'matrix', values: '0 0 0 0 0  4 0 0 0 -1.9  0 0 0 0 0  0 0 0 0 1', result: 'noise'}, f);
  make('feColorMatrix', {in: 'SourceGraphic', type: 'matrix', values: '0 0 0 0 0  0 0 1 0 0  0 0 0 0 0  0 0 0 0 1', result: 'mask'}, f);
  make('feComposite', {in: 'mask', in2: 'noise', operator: 'arithmetic', k1: 0.3, k2: 0, k3: 0, k4: 0, result: 'flecks'}, f);
  make('feComposite', {in: 'SourceGraphic', in2: 'flecks', operator: 'arithmetic', k1: 0, k2: 1, k3: 1, k4: 0}, f);
}

const panelsRoot = document.getElementById('panels');
panelLefts.forEach(function (left, p) {
  const name = panelNames[p].toLowerCase();
  addGrain('grain-' + name, p + 3, left);
  const g = make('g', {}, panelsRoot);
  
  

  const title = make('text', {x: left + PANEL_W / 2 + 0.5, y: 73, 'font-size': 15, 'text-anchor': 'middle'}, g);
  
  
  title.textContent = panelNames[p] + ', V9*V10=EA11*EA19';

  const cells = make('g', {'shape-rendering': 'crispEdges', filter: 'url(#grain-' + name + ')'}, g);
  
  
  panelValues[p].forEach(function (row, r) {
    row.forEach(function (v, c) {
      const x0 = xScale(left, freqEdges[c]), x1 = xScale(left, freqEdges[c + 1]);
      const y0 = yScale(timeEdges[r + 1]), y1 = yScale(timeEdges[r]);
      const cell = make('rect', {x: x0, y: y0, width: x1 - x0, height: y1 - y0, fill: jet(v)}, cells);
      
      
    });
  });

  panelPatches[p].forEach(function (q) {
    const patch = make('rect', {x: xScale(left, q[2]), y: yScale(q[1]), width: xScale(left, q[3]) - xScale(left, q[2]), height: yScale(q[0]) - yScale(q[1]), fill: jet(q[4])}, cells);
    
    
  });

  if (p < 2) {
    streakLines.forEach(function (h) {
      const s = make('rect', {x: left, y: yScale(h) - 0.5, width: PANEL_W, height: 1.2, fill: '#a6ff50', opacity: 0.65}, g);
      
      
    });
  }

  whiteBands.forEach(function (b) {
    const w = make('rect', {x: left, y: yScale(b[1]), width: PANEL_W, height: yScale(b[0]) - yScale(b[1]), fill: '#fff'}, g);
    
    
  });
  whiteLines.forEach(function (h) {
    const w = make('rect', {x: left, y: yScale(h) - 0.7, width: PANEL_W, height: 1.5, fill: '#fff'}, g);
    
    
  });
  if (p >= 2) {
    extraWhiteCross.forEach(function (h) {
      const w = make('rect', {x: left, y: yScale(h) - 0.7, width: PANEL_W, height: 1.5, fill: '#fff'}, g);
      
      
    });
  }
  blackLines.forEach(function (h) {
    const k = make('rect', {x: left, y: Math.round(yScale(h)), width: PANEL_W, height: 1, fill: '#000', 'shape-rendering': 'crispEdges'}, g);
    
    
  });

  const frame = make('rect', {x: left, y: TOP, width: PANEL_W, height: BOTTOM - TOP, fill: 'none', stroke: '#000', 'stroke-width': 1.1}, g);
  
  

  freqTicks.forEach(function (f) {
    const x = xScale(left, f);
    make('path', {d: 'M' + x + ' ' + BOTTOM + 'v-4.5M' + x + ' ' + TOP + 'v4.5', stroke: '#000', 'stroke-width': 0.8, fill: 'none'}, g);
    const t = make('text', {x: x, y: 735, 'font-size': 12.5, 'text-anchor': 'middle'}, g);
    
    
    t.textContent = f;
  });
  hourTicks.forEach(function (h) {
    const y = yScale(h);
    make('path', {d: 'M' + left + ' ' + y + 'h4.5M' + (left + PANEL_W) + ' ' + y + 'h-4.5', stroke: '#000', 'stroke-width': 0.8, fill: 'none'}, g);
    const t = make('text', {x: left - 4, y: y + 3.5, 'font-size': 12.5, 'text-anchor': 'end'}, g);
    
    
    t.textContent = h;
  });
});

const cb = document.getElementById('colorbar');
const cbCells = make('g', {'shape-rendering': 'crispEdges'}, cb);
for (let y = CB_TOP; y < CB_BOTTOM; y++) {
  const v = VMAX - (y + 0.5 - CB_TOP) / (CB_BOTTOM - CB_TOP) * (VMAX - VMIN);
  const band = make('rect', {x: CB_X, y: y, width: CB_W, height: 1, fill: jet(v)}, cbCells);
  
  
}
const cbFrame = make('rect', {x: CB_X, y: CB_TOP, width: CB_W, height: CB_BOTTOM - CB_TOP, fill: 'none', stroke: '#222', 'stroke-width': 1.1}, cb);


colorTicks.forEach(function (v) {
  const y = cbScale(v);
  make('path', {d: 'M' + CB_X + ' ' + y + 'h4.5M' + (CB_X + CB_W) + ' ' + y + 'h-4.5', stroke: '#000', 'stroke-width': 0.8, fill: 'none'}, cb);
  const t = make('text', {x: CB_X - 5, y: y + 3.5, 'font-size': 12, 'text-anchor': 'end'}, cb);
  
  
  t.textContent = (v < 0 ? '\u2212' + (-v) : String(v));
});
for (let i = 0; i < 5; i++) {
  const x = CB_X + 2.7 * (i + 1);
  make('path', {d: 'M' + x + ' ' + CB_TOP + 'v5M' + x + ' ' + CB_BOTTOM + 'v-5', stroke: '#000', 'stroke-width': 0.7, fill: 'none'}, cb);
}
for (let i = 0; i < 6; i++) {
  make('rect', {x: CB_X - 2 + 3.4 * i, y: 645.5, width: 1, height: 1, fill: '#999'}, cb);
}
</script>
</body>
</html>
